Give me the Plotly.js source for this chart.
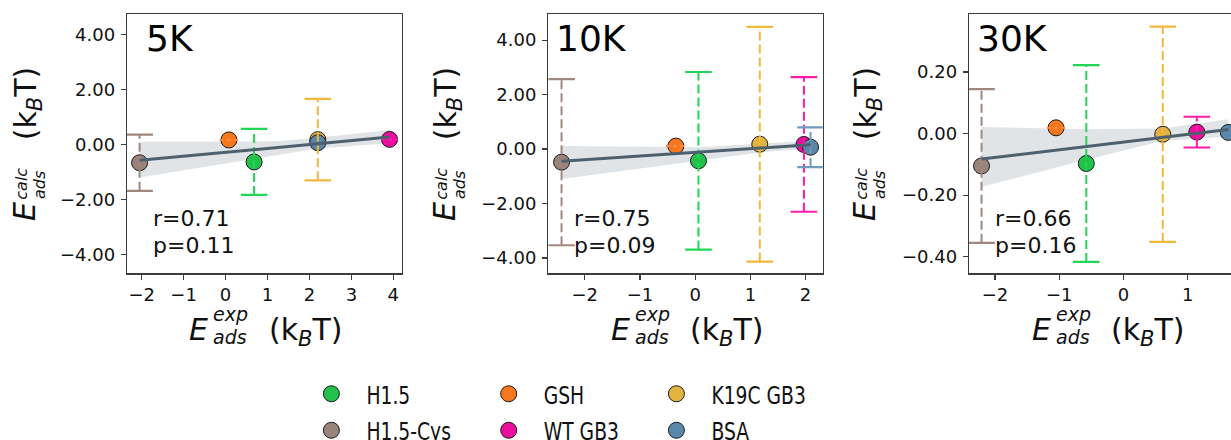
<!DOCTYPE html>
<html><head><meta charset="utf-8">
<script src="https://cdn.plot.ly/plotly-3.0.1.min.js"></script>
<style>
html,body{margin:0;padding:0;overflow:hidden;background:#fff;}
#chart{width:1250px;height:470px;}
</style></head><body><div id="chart"></div>
<script>
// ---------------- data ----------------
const series = ['H1.5', 'H1.5-Cys', 'GSH', 'WT GB3', 'K19C GB3', 'BSA'];
const markerColors = ['#21c14a', '#9a847a', '#f5781e', '#ea0f9e', '#e2b33f', '#5a87aa'];
const errColors = ['#22d655', '#a08880', '#ff8a3d', '#ff1aa8', '#f0b93c', '#6d9cc0'];
const panels = ['5K', '10K', '30K'];

const x5K  = [0.68, -2.05, 0.08, 3.91, 2.20, 2.20];
const y5K  = [-0.64, -0.67, 0.16, 0.18, 0.17, 0.06];
const ey5K = [1.20, 1.02, 0, 0, 1.48, 0];
const ex5K = [0, 0, 0.22, 0.20, 0, 0];

const x10K  = [0.06, -2.42, -0.35, 1.97, 1.17, 2.09];
const y10K  = [-0.43, -0.48, 0.11, 0.17, 0.18, 0.07];
const ey10K = [3.26, 3.05, 0, 2.47, 4.31, 0.73];
const ex10K = [0, 0, 0.18, 0, 0, 0];

const x30K  = [-0.58, -2.21, -1.05, 1.14, 0.61, 1.63];
const y30K  = [-0.097, -0.105, 0.019, 0.005, -0.002, 0.004];
const ey30K = [0.32, 0.25, 0, 0.05, 0.35, 0];
const ex30K = [0, 0, 0.14, 0, 0, 0];

// confidence-band edges
const bandX5K  = [-2.05, 0.04, 1.2, 2.2, 3.91];
const bandLo5K = [-1.21, -0.68, -0.40, -0.15, 0.04];
const bandHi5K = [0.09, 0.10, 0.11, 0.24, 0.52];
const bandX10K  = [-2.42, 0.06, 1.19, 2.09];
const bandLo10K = [-1.10, -0.43, -0.12, 0.03];
const bandHi10K = [0.11, 0.07, 0.21, 0.29];
const bandX30K  = [-2.21, -0.58, 0.61, 1.63];
const bandLo30K = [-0.173, -0.085, -0.023, -0.01];
const bandHi30K = [0.022, 0.014, 0.017, 0.047];

const rText = ['r=0.71', 'r=0.75', 'r=0.66'];
const pText = ['p=0.11', 'p=0.09', 'p=0.16'];

const xTicks5K = [-2, -1, 0, 1, 2, 3, 4];
const yTicks5K = [-4, -2, 0, 2, 4];
const xTicks10K = [-2, -1, 0, 1, 2];
const yTicks10K = [-4, -2, 0, 2, 4];
const xTicks30K = [-2, -1, 0, 1];
const yTicks30K = [-0.4, -0.2, 0, 0.2];

// ---------------- geometry (pixels) ----------------
const W = 1250, H = 470;
const FONT = 'DejaVu Sans';
const plotL = [127, 548.3, 969];
const plotR = [401.7, 822.7, 1244];
const plotT = 14, plotB = 273.3;
const xRanges = [[-2.35, 4.2], [-2.66, 2.31], [-2.405, 1.874]];
const yRanges = [[-4.69, 4.74], [-4.56, 4.96], [-0.454, 0.389]];
const px = v => v / W;
const py = v => 1 - v / H;

const data = [
  {x: x5K, y: y5K, ex: ex5K, ey: ey5K, bx: bandX5K, lo: bandLo5K, hi: bandHi5K, xt: xTicks5K, yt: yTicks5K},
  {x: x10K, y: y10K, ex: ex10K, ey: ey10K, bx: bandX10K, lo: bandLo10K, hi: bandHi10K, xt: xTicks10K, yt: yTicks10K},
  {x: x30K, y: y30K, ex: ex30K, ey: ey30K, bx: bandX30K, lo: bandLo30K, hi: bandHi30K, xt: xTicks30K, yt: yTicks30K}
];

const traces = [], annotations = [];
const layout = {width: W, height: H, margin: {l: 0, r: 0, t: 0, b: 0, pad: 0},
  paper_bgcolor: '#fff', plot_bgcolor: '#fff', showlegend: true,
  font: {family: FONT, color: '#111', size: 18}};

function linfit(xs, ys) {
  const n = xs.length;
  const mx = xs.reduce((a, b) => a + b, 0) / n, my = ys.reduce((a, b) => a + b, 0) / n;
  let sxy = 0, sxx = 0;
  for (let i = 0; i < n; i++) { sxy += (xs[i] - mx) * (ys[i] - my); sxx += (xs[i] - mx) ** 2; }
  const b = sxy / sxx;
  return {b: b, a: my - b * mx};
}
const ann = o => Object.assign({xref: 'paper', yref: 'paper', showarrow: false, borderpad: 0}, o);
const tf = sz => ({family: FONT, size: sz, color: '#111'});

data.forEach((d, p) => {
  const sfx = p === 0 ? '' : String(p + 1);
  const xa = 'x' + sfx, ya = 'y' + sfx;
  const axCommon = {showline: true, mirror: true, linecolor: '#3c3c3c', linewidth: 1.3,
    ticks: 'outside', ticklen: 5, tickwidth: 1.3, tickcolor: '#3c3c3c',
    showgrid: false, zeroline: false, automargin: false,
    tickfont: {family: FONT, size: 18, color: '#111'}};
  layout['xaxis' + sfx] = Object.assign({}, axCommon, {domain: [px(plotL[p]), px(plotR[p])],
    range: xRanges[p], anchor: ya, tickmode: 'array', tickvals: d.xt, tickformat: 'd'});
  layout['yaxis' + sfx] = Object.assign({}, axCommon, {domain: [py(plotB), py(plotT)],
    range: yRanges[p], anchor: xa, tickmode: 'array', tickvals: d.yt, tickformat: '.2f',
    ticklabelstandoff: 2});

  // confidence band
  const bx = d.bx.concat(d.bx.slice().reverse());
  const by = d.hi.concat(d.lo.slice().reverse());
  traces.push({type: 'scatter', x: bx, y: by, xaxis: xa, yaxis: ya, mode: 'lines', fill: 'toself',
    fillcolor: 'rgba(160,172,182,0.33)', line: {width: 0}, hoverinfo: 'skip', showlegend: false});

  // points
  traces.push({type: 'scatter', x: d.x, y: d.y, xaxis: xa, yaxis: ya, mode: 'markers',
    marker: {size: 16, color: markerColors, line: {color: '#1a1a1a', width: 1}},
    text: series, showlegend: false});

  // dashed error bars with solid caps
  for (let i = 0; i < series.length; i++) {
    if (d.ey[i] > 0) {
      const ys = [d.y[i] - d.ey[i], d.y[i] + d.ey[i]];
      traces.push({type: 'scatter', x: [d.x[i], d.x[i]], y: ys, xaxis: xa, yaxis: ya, mode: 'lines',
        line: {color: errColors[i], width: 2, dash: '9px,4px'}, hoverinfo: 'skip', showlegend: false});
      traces.push({type: 'scatter', x: [d.x[i], d.x[i]], y: ys, xaxis: xa, yaxis: ya, mode: 'markers',
        marker: {symbol: 'line-ew', size: 19, line: {color: errColors[i], width: 2.2}},
        hoverinfo: 'skip', showlegend: false});
    }
    if (d.ex[i] > 0) {
      traces.push({type: 'scatter', x: [d.x[i] - d.ex[i], d.x[i] + d.ex[i]], y: [d.y[i], d.y[i]],
        xaxis: xa, yaxis: ya, mode: 'lines', line: {color: errColors[i], width: 2, dash: '4px,3px'},
        hoverinfo: 'skip', showlegend: false});
    }
  }

  // least-squares regression line over the data range
  const f = linfit(d.x, d.y);
  const xmin = Math.min(...d.x), xmax = Math.max(...d.x);
  traces.push({type: 'scatter', x: [xmin, xmax], y: [f.a + f.b * xmin, f.a + f.b * xmax],
    xaxis: xa, yaxis: ya, mode: 'lines', line: {color: '#4e606e', width: 3},
    hoverinfo: 'skip', showlegend: false});

  // panel label and statistics
  annotations.push(ann({x: px(p === 0 ? 145 : plotL[p] + 6.5), y: py(38.3), xanchor: 'left', yanchor: 'middle',
    text: panels[p], font: {family: FONT, size: 36, color: '#000'}}));
  annotations.push(ann({x: px(plotL[p] + 25), y: py(218.7), xanchor: 'left', yanchor: 'middle',
    text: rText[p], font: tf(22)}));
  annotations.push(ann({x: px(plotL[p] + 25), y: py(245.3), xanchor: 'left', yanchor: 'middle',
    text: pText[p], font: tf(22)}));

  // x-axis title  E^exp_ads  (k_B T)
  const cx = (plotL[p] + plotR[p]) / 2;
  annotations.push(ann({x: px(cx - 65.4), y: py(329.6), xanchor: 'center', yanchor: 'middle',
    text: '<i>E</i>', font: tf(30)}));
  annotations.push(ann({x: px(cx - 52), y: py(314), xanchor: 'left', yanchor: 'middle',
    text: '<i>exp</i>', font: tf(19)}));
  annotations.push(ann({x: px(cx - 52), y: py(337.4), xanchor: 'left', yanchor: 'middle',
    text: '<i>ads</i>', font: tf(19)}));
  annotations.push(ann({x: px(cx + 41.4), y: py(331.8), xanchor: 'center', yanchor: 'middle',
    text: '(k<sub><i>B</i></sub>T)', font: tf(30)}));

  // y-axis title (rotated)  E^calc_ads  (k_B T)
  const ox = p === 0 ? 0 : (p === 1 ? 420 : 840);
  annotations.push(ann({x: px(ox + 24.4), y: py(211.7), xanchor: 'center', yanchor: 'middle', textangle: -90,
    text: '<i>E</i>', font: tf(30)}));
  annotations.push(ann({x: px(ox + 21.2), y: py(200.5), xanchor: 'center', yanchor: 'bottom', textangle: -90,
    text: '<i>calc</i>', font: tf(16)}));
  annotations.push(ann({x: px(ox + 39.5), y: py(200.5), xanchor: 'center', yanchor: 'bottom', textangle: -90,
    text: '<i>ads</i>', font: tf(16)}));
  annotations.push(ann({x: px(ox + 27), y: py(103.3), xanchor: 'center', yanchor: 'middle', textangle: -90,
    text: '(k<sub><i>B</i></sub>T)', font: tf(30)}));
});

// legend: one small legend per entry, 3 columns x 2 rows (column-major order)
const legMarkX = [331.7, 509, 676.7];
const legRowY = [394, 430.5];
series.forEach((name, i) => {
  const col = Math.floor(i / 2), row = i % 2;
  const lid = i === 0 ? 'legend' : 'legend' + (i + 1);
  traces.push({type: 'scatter', x: [null], y: [null], mode: 'markers', name: name, legend: lid,
    marker: {size: 18, color: markerColors[i], line: {color: '#1a1a1a', width: 1}}, showlegend: true});
  layout[lid] = {x: px(legMarkX[col] - 35.3), y: py(legRowY[row]), xref: 'paper', yref: 'paper',
    xanchor: 'left', yanchor: 'middle', bgcolor: 'rgba(0,0,0,0)', borderwidth: 0,
    font: {family: FONT, size: 25, color: '#111'}, itemwidth: 60};
});

layout.annotations = annotations;
Plotly.newPlot('chart', traces, layout, {staticPlot: true, displayModeBar: false}).then(() => {
  // the reference legend lettering is horizontally condensed
  document.querySelectorAll('g.infolayer text').forEach(t => {
    const c = t.getAttribute('class') || '';
    if (/^legend\d*text$/.test(c)) {
      t.style.transformBox = 'fill-box';
      t.style.transformOrigin = '0 50%';
      t.style.transform = 'scaleX(0.75)';
    }
  });
});
</script>
</body></html>
